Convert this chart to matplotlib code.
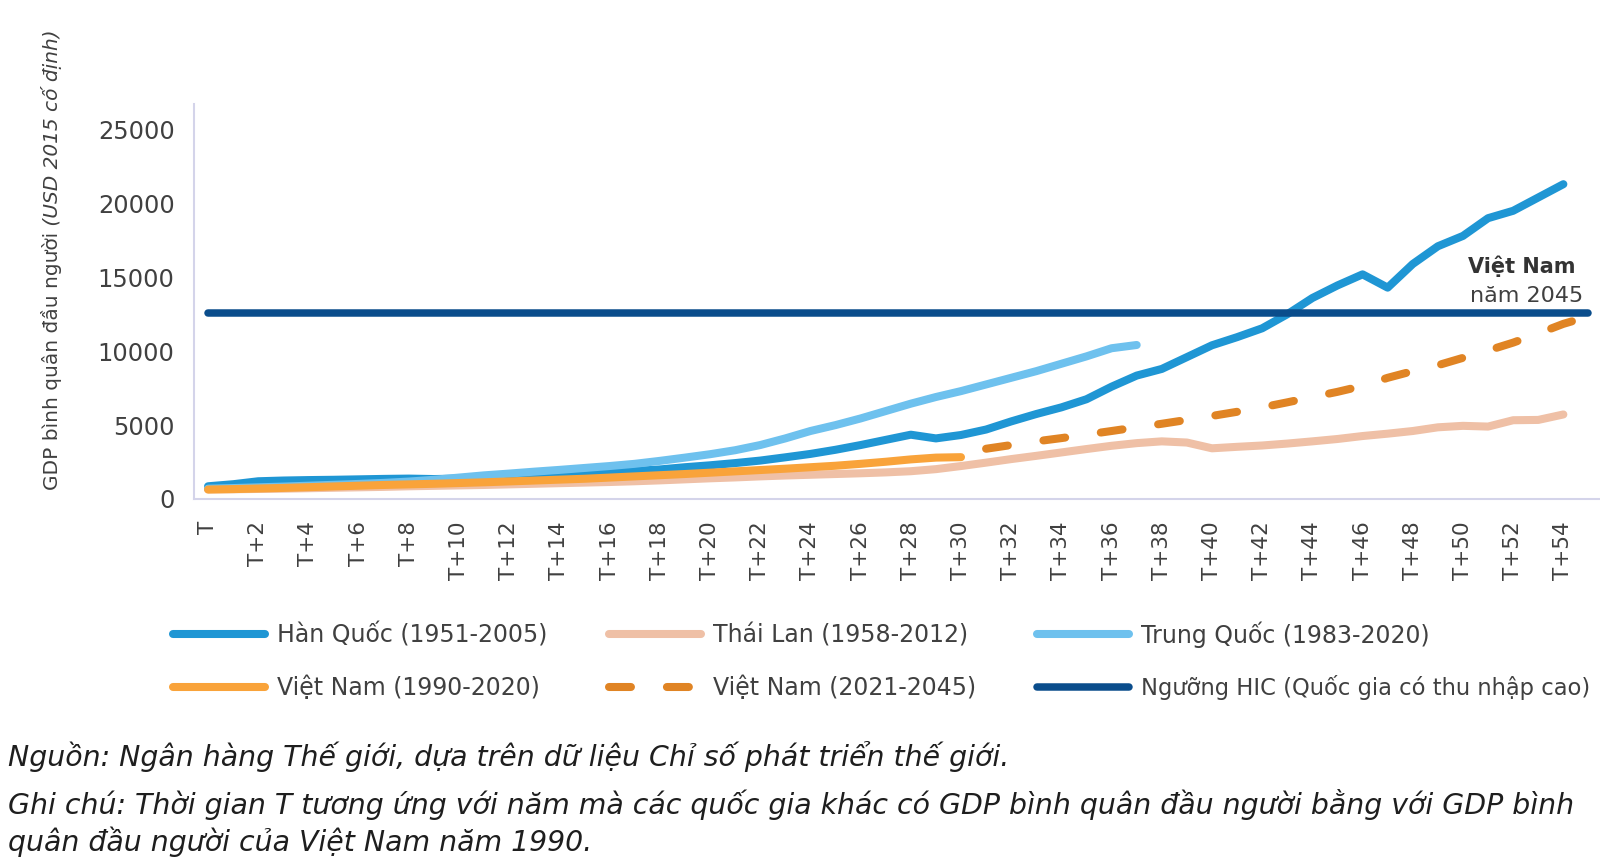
"""
gdp_catchup.py
--------------
GDP per capita trajectories (constant 2015 USD) of Korea, Thailand,
China and Vietnam, aligned on year T, with the high-income threshold.
"""

import matplotlib
matplotlib.use("Agg")
import matplotlib.pyplot as plt

plt.rcParams["font.family"] = ["DejaVu Sans"]
plt.rcParams["lines.scale_dashes"] = False

# ── data ───────────────────────────────────────────────────────────────────
KOREA = [860, 1000, 1200, 1250, 1280, 1300, 1330, 1360, 1380, 1350,
         1380, 1430, 1460, 1520, 1600, 1700, 1800, 1900, 2000, 2150,
         2280, 2430, 2600, 2820, 3050, 3330, 3650, 4000, 4350, 4100,
         4330, 4700, 5250, 5750, 6200, 6750, 7600, 8350, 8800, 9600,
         10400, 10950, 11550, 12500, 13600, 14450, 15200, 14300, 15900, 17100,
         17800, 19000, 19500, 20400, 21300]
THAILAND = [650, 660, 680, 700, 730, 760, 790, 820, 860, 890,
            920, 950, 990, 1030, 1070, 1110, 1150, 1200, 1260, 1330,
            1400, 1460, 1530, 1590, 1640, 1690, 1740, 1800, 1880, 2020,
            2230, 2460, 2700, 2920, 3150, 3380, 3600, 3780, 3900, 3820,
            3430, 3530, 3620, 3750, 3900, 4060, 4260, 4420, 4600, 4850,
            4950, 4900, 5330, 5350, 5720]
CHINA = [700, 740, 790, 840, 900, 960, 1020, 1090, 1180, 1300,
         1450, 1600, 1720, 1850, 1970, 2100, 2230, 2380, 2580, 2800,
         3030, 3300, 3650, 4100, 4600, 5000, 5450, 5950, 6450, 6900,
         7300, 7750, 8200, 8650, 9150, 9650, 10200, 10420]
VIETNAM = [640, 670, 710, 750, 800, 850, 900, 950, 990, 1030,
           1080, 1130, 1190, 1250, 1310, 1370, 1450, 1530, 1610, 1690,
           1780, 1870, 1960, 2050, 2150, 2250, 2380, 2520, 2680, 2800,
           2830]
VIETNAM_PROJ_START = 31
VIETNAM_PROJ = [3400, 3650, 3900, 4120, 4360, 4600, 4850, 5090, 5350, 5620,
                5900, 6200, 6540, 6900, 7250, 7650, 8200, 8650, 9050, 9550,
                10050, 10580, 11200, 11850, 12350]
HIC_THRESHOLD = 12560
HIC_SPAN = [0, 55]

LABELS = {
    "kor": "Hàn Quốc (1951-2005)",
    "tha": "Thái Lan (1958-2012)",
    "chn": "Trung Quốc (1983-2020)",
    "vnm": "Việt Nam (1990-2020)",
    "vnp": "Việt Nam (2021-2045)",
    "hic": "Ngưỡng HIC (Quốc gia có thu nhập cao)",
}
COLORS = {
    "kor": "#1f96d4",
    "tha": "#efc0a6",
    "chn": "#6ec1ee",
    "vnm": "#f9a33a",
    "vnp": "#e08424",
    "hic": "#0a4d8c",
}

Y_TICKS = [0, 5000, 10000, 15000, 20000, 25000]
X_TICKS = list(range(0, 55, 2))
X_TICK_LABELS = ["T"] + [f"T+{k}" for k in X_TICKS[1:]]

SOURCE = "Nguồn: Ngân hàng Thế giới, dựa trên dữ liệu Chỉ số phát triển thế giới."
NOTE_1 = ("Ghi chú: Thời gian T tương ứng với năm mà các quốc gia khác có GDP "
          "bình quân đầu người bằng với GDP bình")
NOTE_2 = "quân đầu người của Việt Nam năm 1990."

TEXT = "#404040"

W, H = 1600, 868
fig = plt.figure(figsize=(W / 100, H / 100), dpi=100)
ax = fig.add_axes([194 / W, 1 - 499 / H, 1 - 194 / W, (499 - 104) / H])


def line(key, xs, ys, lw=5.8, **kw):
    ln, = ax.plot(xs, ys, color=COLORS[key], lw=lw, label=LABELS[key],
                  solid_capstyle="round", solid_joinstyle="round",
                  clip_on=False, **kw)
    return ln


h_kor = line("kor", range(len(KOREA)), KOREA)
h_tha = line("tha", range(len(THAILAND)), THAILAND)
h_chn = line("chn", range(len(CHINA)), CHINA)
h_vnm = line("vnm", range(len(VIETNAM)), VIETNAM)
h_vnp = line("vnp", range(VIETNAM_PROJ_START, VIETNAM_PROJ_START + len(VIETNAM_PROJ)),
             VIETNAM_PROJ, dashes=(15.8, 25.9), dash_capstyle="round")
h_hic = line("hic", HIC_SPAN, [HIC_THRESHOLD] * 2, lw=5.4)

ax.set_xlim(-0.56, 55.46)
ax.set_ylim(0, 26725)
ax.set_yticks(Y_TICKS)
ax.set_yticklabels([str(v) for v in Y_TICKS])
ax.set_xticks(X_TICKS)
ax.set_xticklabels(X_TICK_LABELS, rotation=90)
ax.tick_params(axis="y", length=0, pad=14, labelsize=17.4, labelcolor=TEXT)
ax.tick_params(axis="x", length=0, pad=16, labelsize=15.5, labelcolor=TEXT)
for side in ("top", "right"):
    ax.spines[side].set_visible(False)
for side in ("left", "bottom"):
    ax.spines[side].set_color("#d4d4ea")
    ax.spines[side].set_linewidth(1.5)

# annotation at the end of the projection
ax.text(54.5, 15750, "Việt Nam", ha="right", va="center", fontsize=15,
        fontweight="bold", color="#333333")
ax.text(54.8, 13750, "năm 2045", ha="right", va="center", fontsize=16,
        color=TEXT)

# y label: upright part + italic part, stacked along the rotated baseline
fig.canvas.draw()
renderer = fig.canvas.get_renderer()
t1 = fig.text(52 / W, 1 - 490 / H, "GDP bình quân đầu người", rotation=90,
              ha="center", va="bottom", fontsize=14.5, color=TEXT)
bb = t1.get_window_extent(renderer).transformed(fig.transFigure.inverted())
fig.text(52 / W, bb.y1, " (USD 2015 cố định)", rotation=90, ha="center",
         va="bottom", fontsize=14.5, style="italic", color=TEXT)

# legend, 3 columns x 2 rows (column-major fill)
handles = [h_kor, h_vnm, h_tha, h_vnp, h_chn, h_hic]
leg = fig.legend(handles, [h.get_label() for h in handles], ncol=3,
                 loc="upper left", bbox_to_anchor=(173 / W, 1 - 621 / H),
                 frameon=False, fontsize=17, handlelength=3.9,
                 handletextpad=0.5, columnspacing=2.6, labelspacing=1.18,
                 borderpad=0, borderaxespad=0)
for txt in leg.get_texts():
    txt.set_color(TEXT)
# the long threshold label is set a little smaller so it fits the width
leg.get_texts()[5].set_fontsize(16.3)

# footnotes
for y, s in ((757, SOURCE), (804, NOTE_1), (842, NOTE_2)):
    fig.text(8 / W, 1 - y / H, s, ha="left", va="center", fontsize=20.4,
             style="italic", color="#1e1e1e")

fig.savefig("out.png", dpi=100)
